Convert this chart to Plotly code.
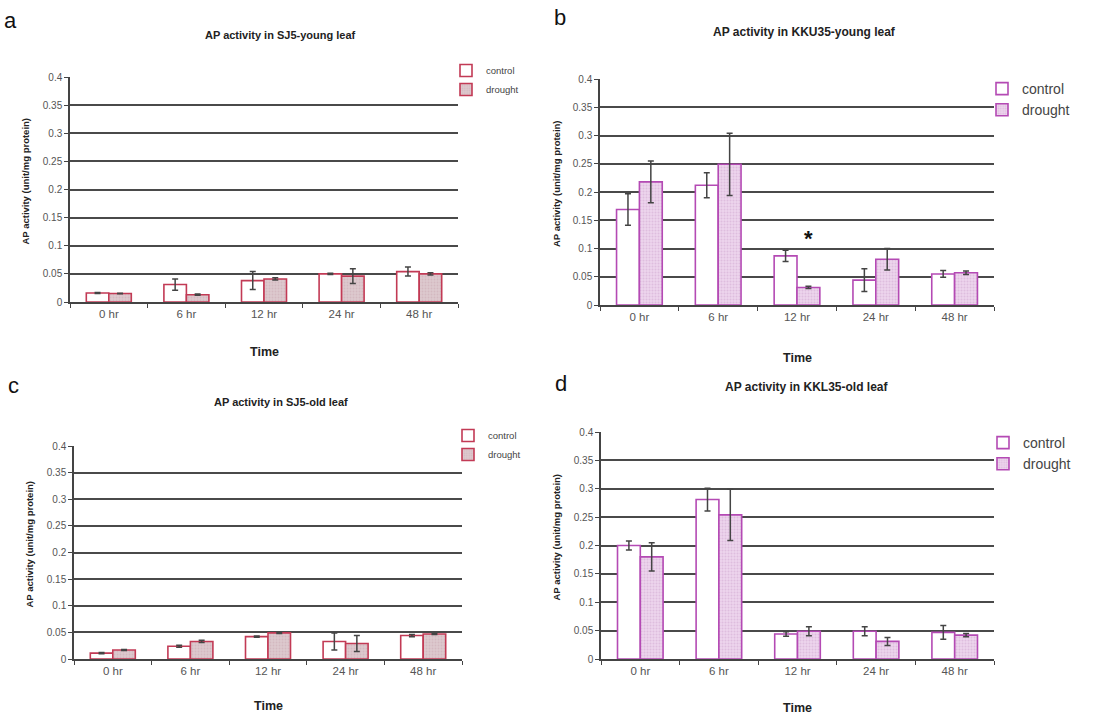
import plotly.graph_objects as go

W, H = 1102, 718

categories = ["0 hr", "6 hr", "12 hr", "24 hr", "48 hr"]
y_ticks = [0, 0.05, 0.1, 0.15, 0.2, 0.25, 0.3, 0.35, 0.4]

# a: SJ5 young leaf
sj5_young_control = [0.016, 0.031, 0.038, 0.050, 0.054]
sj5_young_control_err = [0.001, 0.010, 0.016, 0.001, 0.008]
sj5_young_drought = [0.015, 0.013, 0.041, 0.046, 0.050]
sj5_young_drought_err = [0.0005, 0.001, 0.002, 0.013, 0.002]

# b: KKU35 young leaf
kku_young_control = [0.169, 0.212, 0.087, 0.044, 0.055]
kku_young_control_err = [0.028, 0.022, 0.010, 0.020, 0.006]
kku_young_drought = [0.218, 0.249, 0.031, 0.081, 0.057]
kku_young_drought_err = [0.037, 0.055, 0.002, 0.019, 0.003]

# c: SJ5 old leaf
sj5_old_control = [0.011, 0.024, 0.042, 0.033, 0.044]
sj5_old_control_err = [0.001, 0.002, 0.001, 0.016, 0.002]
sj5_old_drought = [0.017, 0.033, 0.049, 0.029, 0.047]
sj5_old_drought_err = [0.001, 0.002, 0.001, 0.015, 0.001]

# d: KKU35 old leaf
kku_old_control = [0.200, 0.281, 0.044, 0.049, 0.047]
kku_old_control_err = [0.008, 0.020, 0.004, 0.008, 0.012]
kku_old_drought = [0.180, 0.254, 0.049, 0.031, 0.042]
kku_old_drought_err = [0.025, 0.045, 0.008, 0.007, 0.003]

titles = ["AP activity in SJ5-young leaf", "AP activity in KKU35-young leaf",
          "AP activity in SJ5-old leaf", "AP activity in KKL35-old leaf"]
panel_letters = ["a", "b", "c", "d"]
series_names = ["control", "drought"]

RED = "#c23a55"
PURPLE = "#b44ab4"
ERR = "#444444"

# panel boxes in pixels: (left, right, top, bottom)
boxes = [(70, 458, 77, 302), (600, 994, 79, 305), (74, 462, 446, 659), (601, 994, 432, 659)]
panels = [
    (sj5_young_control, sj5_young_control_err, sj5_young_drought, sj5_young_drought_err, RED, "#ddc9ce", "#c9aab2"),
    (kku_young_control, kku_young_control_err, kku_young_drought, kku_young_drought_err, PURPLE, "#ecd4ec", "#cfa6cf"),
    (sj5_old_control, sj5_old_control_err, sj5_old_drought, sj5_old_drought_err, RED, "#ddc9ce", "#c9aab2"),
    (kku_old_control, kku_old_control_err, kku_old_drought, kku_old_drought_err, PURPLE, "#ecd4ec", "#cfa6cf"),
]
legend_pos = [(446, 56, 9.5), (982, 73, 14), (448, 421, 9.5), (983, 427, 14)]

fig = go.Figure()
layout = dict(width=W, height=H, autosize=False, margin=dict(l=0, r=0, t=0, b=0, autoexpand=False),
              paper_bgcolor="white", plot_bgcolor="white", barmode="group",
              bargap=0.42, bargroupgap=0.0, annotations=[],
              font=dict(family="Liberation Sans, Arial, sans-serif", color="#333"))

def px_x(p):
    return p / W

def px_y(p):
    return 1 - p / H

def note(text, x, y, size, color="#222", angle=0, bold=True):
    layout["annotations"].append(dict(text=("<b>%s</b>" % text) if bold else text, xref="paper", yref="paper",
                                      x=px_x(x), y=px_y(y), xanchor="center", yanchor="middle",
                                      showarrow=False, textangle=angle, font=dict(size=size, color=color)))

for i, (ctrl, ctrl_e, dr, dr_e, edge, bgc, fgc) in enumerate(panels):
    n = "" if i == 0 else str(i + 1)
    xa, ya, lg = "x" + n, "y" + n, "legend" + n
    fig.add_trace(go.Bar(x=categories, y=ctrl, name=series_names[0], xaxis=xa, yaxis=ya, legend=lg,
                         marker=dict(color="white", line=dict(color=edge, width=1.6)),
                         error_y=dict(type="data", array=ctrl_e, color=ERR, thickness=1.5, width=3)))
    fig.add_trace(go.Bar(x=categories, y=dr, name=series_names[1], xaxis=xa, yaxis=ya, legend=lg,
                         marker=dict(color=bgc, line=dict(color=edge, width=1.6),
                                     pattern=dict(shape=".", fgcolor=fgc, bgcolor=bgc, size=3, solidity=0.35)),
                         error_y=dict(type="data", array=dr_e, color=ERR, thickness=1.5, width=3)))
    l, r, t, b = boxes[i]
    layout["xaxis" + n] = dict(domain=[px_x(l), px_x(r)], anchor=ya, type="category",
                               showline=True, linecolor="#444", linewidth=1.5,
                               ticks="outside", tickson="boundaries", ticklen=4, tickcolor="#444",
                               tickfont=dict(size=11.5, color="#555"), showgrid=False)
    layout["yaxis" + n] = dict(domain=[px_y(b), px_y(t)], anchor=xa, range=[0, 0.4],
                               tickvals=y_ticks, showline=True, linecolor="#444", linewidth=1.5,
                               ticks="outside", ticklen=4, tickcolor="#444",
                               tickfont=dict(size=10, color="#555"),
                               showgrid=True, gridcolor="#4a4a4a", gridwidth=1.8, zeroline=False)
    lx, ly, fs = legend_pos[i]
    layout[lg] = dict(x=px_x(lx), y=px_y(ly), xanchor="left", yanchor="top",
                      bgcolor="rgba(0,0,0,0)", font=dict(size=fs, color="#444"),
                      tracegroupgap=0, itemwidth=30)
    cx = (l + r) / 2
    title_x = [280, 804, 281, 806][i]
    title_y = [35, 32, 402, 387][i]
    title_size = [11, 12, 11, 12][i]
    note(titles[i], title_x, title_y, title_size)
    time_y = [352, 358, 706, 708][i]
    note("Time", cx, time_y, 12.5)
    ylab_x = [25, 556, 29, 556][i]
    note("AP activity (unit/mg protein)", ylab_x, (t + b) / 2 - 8, 9.5, angle=-90)
    lpos = [(10, 20), (560, 18), (13, 385), (561, 383)][i]
    note(panel_letters[i], lpos[0], lpos[1], 22, color="#111", bold=False)

# significance marker on panel b (12 hr, drought)
layout["annotations"].append(dict(text="<b>*</b>", xref="x2", yref="y2", x=categories[2], y=0.118,
                                  xshift=11, showarrow=False, font=dict(size=22, color="#111")))

fig.update_layout(**layout)
fig.write_html("out.html", config={"displayModeBar": False},
               post_script="document.body.style.margin='0';document.body.style.overflow='hidden';")
